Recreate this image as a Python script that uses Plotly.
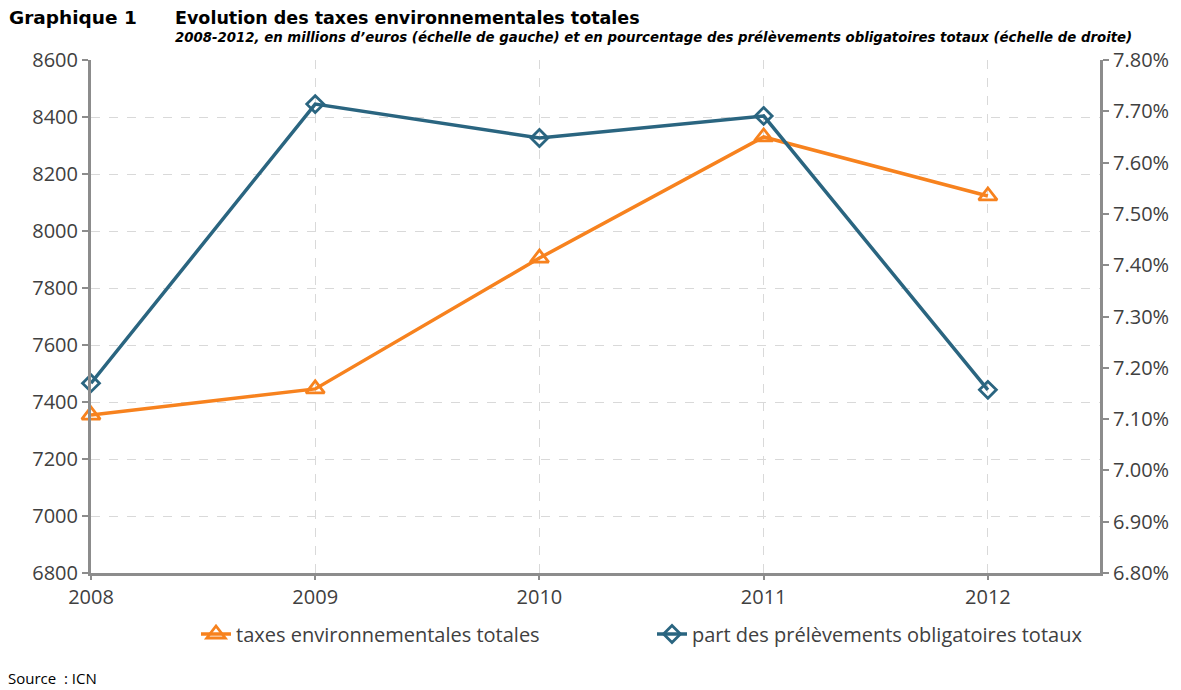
import plotly.graph_objects as go

years = [2008, 2009, 2010, 2011, 2012]
taxes = [7354, 7446, 7905, 8330, 8123]
part_pct = [7.170, 7.714, 7.648, 7.691, 7.157]
left_ticks = [6800, 7000, 7200, 7400, 7600, 7800, 8000, 8200, 8400, 8600]
right_ticks = [6.8, 6.9, 7.0, 7.1, 7.2, 7.3, 7.4, 7.5, 7.6, 7.7, 7.8]
right_labels = ["%.2f%%" % v for v in right_ticks]

ORANGE = "#F7821E"
BLUE = "#2A6580"
AXIS = "#8C8C8C"
TXT = "#404040"
FONT = "Open Sans"
TFONT = "DejaVu Sans"

# page has an 8px body margin; target pixel positions are converted accordingly
OFF = 8
W, H = 1181, 690
PL, PR, PT, PB = 91 - OFF, 1100 - OFF, 60 - OFF, 573 - OFF
PW, PH = PR - PL, PB - PT


def px(x):
    return (x - OFF - PL) / PW


def py(y):
    return (PB - (y - OFF)) / PH


fig = go.Figure()
fig.add_trace(go.Scatter(
    x=years, y=taxes, name="taxes environnementales totales", mode="lines+markers",
    line=dict(color=ORANGE, width=3.5),
    marker=dict(symbol="triangle-up-open", size=16, color=ORANGE, line=dict(width=2.8, color=ORANGE)),
    yaxis="y", cliponaxis=False))
fig.add_trace(go.Scatter(
    x=years, y=part_pct, name="part des prélèvements obligatoires totaux", mode="lines+markers",
    line=dict(color=BLUE, width=3.5),
    marker=dict(symbol="diamond-open", size=13, color=BLUE, line=dict(width=2.8, color=BLUE)),
    yaxis="y2", cliponaxis=False))

fig.update_layout(
    width=W, height=H,
    paper_bgcolor="white", plot_bgcolor="white",
    margin=dict(l=PL, r=W - PR, t=PT, b=H - PB),
    font=dict(family=FONT, color=TXT, size=20),
    showlegend=True,
    legend=dict(orientation="h", x=px(196), xanchor="left", y=py(634), yanchor="middle",
                font=dict(size=20, color=TXT), entrywidth=411,
                traceorder="normal", bgcolor="rgba(0,0,0,0)"),
    xaxis=dict(range=[2008, 2012.5], tickvals=years, ticktext=[str(y) for y in years],
               showgrid=True, gridcolor="#D9D9D9", griddash="dash", gridwidth=1,
               showline=True, linecolor=AXIS, linewidth=3, ticks="outside",
               tickcolor=AXIS, ticklen=4, tickwidth=2, zeroline=False,
               tickfont=dict(size=20, color=TXT)),
    yaxis=dict(range=[6800, 8600], tickvals=left_ticks,
               showgrid=True, gridcolor="#D9D9D9", griddash="dash", gridwidth=1,
               showline=True, linecolor=AXIS, linewidth=3, ticks="outside",
               tickcolor=AXIS, ticklen=6, tickwidth=2, zeroline=False,
               tickfont=dict(size=20, color=TXT)),
    yaxis2=dict(range=[6.8, 7.8], tickvals=right_ticks, ticktext=right_labels,
                overlaying="y", side="right", showgrid=False,
                showline=True, linecolor=AXIS, linewidth=3, ticks="outside",
                tickcolor=AXIS, ticklen=6, tickwidth=2, zeroline=False,
                tickfont=dict(size=20, color=TXT)),
)

fig.add_annotation(text="<b>Graphique 1</b>", xref="paper", yref="paper",
                   x=px(7), y=py(18), xanchor="left", yanchor="middle",
                   showarrow=False, font=dict(size=18.5, color="#000000", family=TFONT))
fig.add_annotation(text="<b>Evolution des taxes environnementales totales</b>", xref="paper", yref="paper",
                   x=px(173), y=py(18), xanchor="left", yanchor="middle",
                   showarrow=False, font=dict(size=17.5, color="#000000", family=TFONT))
fig.add_annotation(text="<b><i>2008-2012, en millions d’euros (échelle de gauche) et en pourcentage des prélèvements obligatoires totaux (échelle de droite)</i></b>",
                   xref="paper", yref="paper",
                   x=px(173), y=py(37), xanchor="left", yanchor="middle",
                   showarrow=False, font=dict(size=13.3, color="#000000", family=TFONT))
fig.add_annotation(text="Source  : ICN", xref="paper", yref="paper",
                   x=px(6), y=py(678), xanchor="left", yanchor="middle",
                   showarrow=False, font=dict(size=15, color="#000000", family=FONT))

fig.write_html("out.html")
